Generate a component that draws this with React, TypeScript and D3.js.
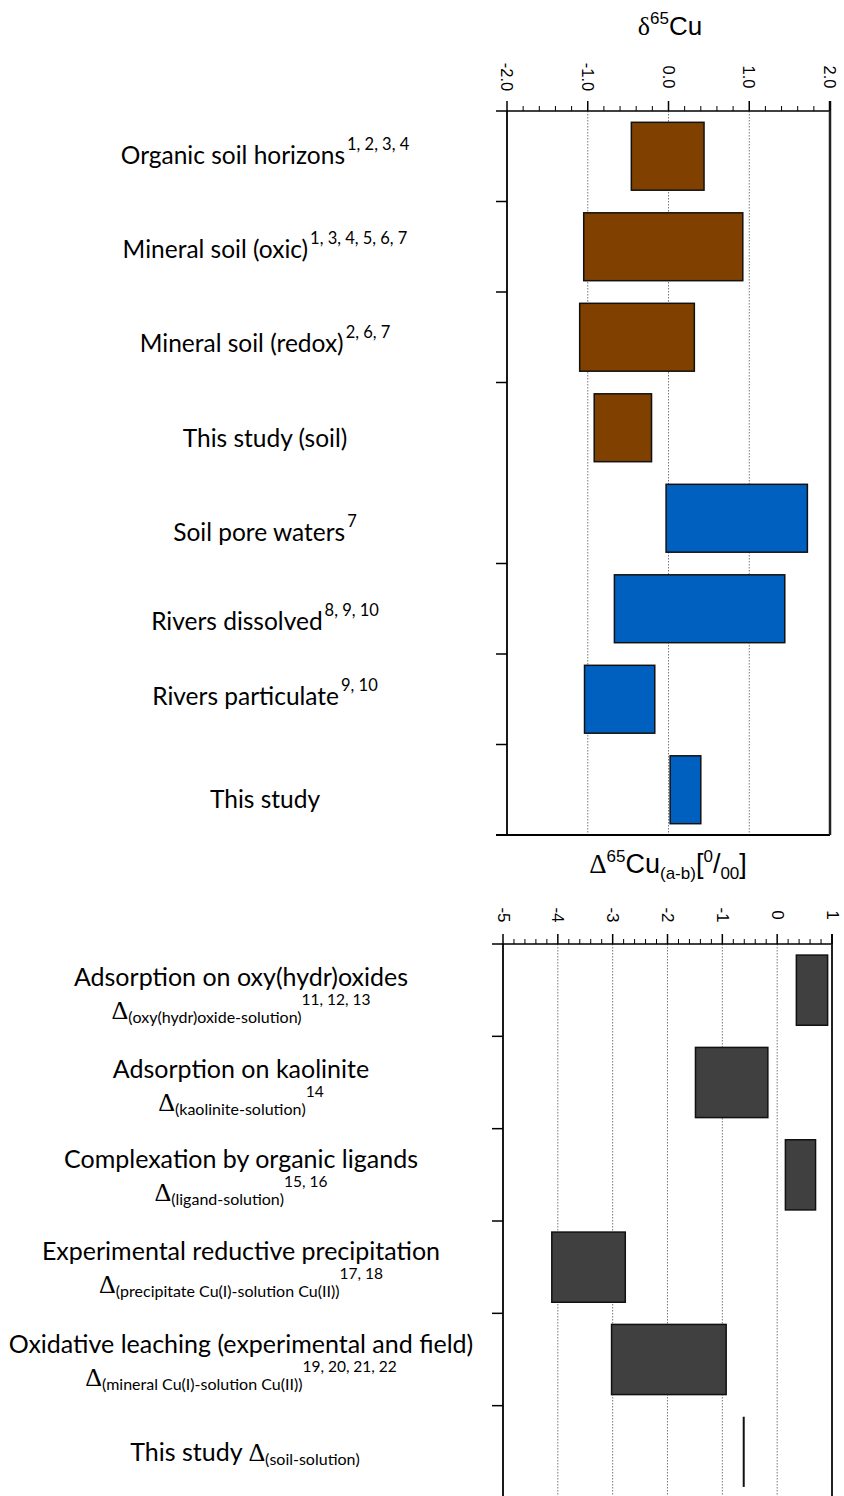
import * as React from 'react';
import * as d3 from 'd3';

// top panel: reported d65Cu ranges
const soilCategories = [
  'Organic soil horizons',
  'Mineral soil (oxic)',
  'Mineral soil (redox)',
  'This study  (soil)',
  'Soil pore waters',
  'Rivers dissolved',
  'Rivers particulate',
  'This study',
];
const soilRefs = ['1, 2, 3, 4', '1, 3, 4, 5, 6, 7', '2, 6, 7', '', '7', '8, 9, 10', '9, 10', ''];
const soilLow = [-0.46, -1.05, -1.1, -0.92, -0.03, -0.67, -1.04, 0.02];
const soilHigh = [0.44, 0.92, 0.32, -0.21, 1.72, 1.44, -0.17, 0.4];
const soilKind = ['solid', 'solid', 'solid', 'solid', 'water', 'water', 'water', 'water'];
const soilTickValues = [-2, -1, 0, 1, 2];
const soilTickLabels = ['-2.0', '-1.0', '0.0', '1.0', '2.0'];

// bottom panel: fractionation factors
const procTitles = [
  'Adsorption on oxy(hydr)oxides',
  'Adsorption on kaolinite',
  'Complexation by organic ligands',
  'Experimental reductive precipitation',
  'Oxidative leaching (experimental and field)',
  'This study',
];
const procSubs = [
  '(oxy(hydr)oxide-solution)',
  '(kaolinite-solution)',
  '(ligand-solution)',
  '(precipitate Cu(I)-solution Cu(II))',
  '(mineral Cu(I)-solution Cu(II))',
  '(soil-solution)',
];
const procRefs = ['11, 12, 13', '14', '15, 16', '17, 18', '19, 20, 21, 22', ''];
const procLow = [0.35, -1.49, 0.15, -4.11, -3.02, -0.61];
const procHigh = [0.92, -0.17, 0.7, -2.77, -0.93, -0.61];
const procTickValues = [-5, -4, -3, -2, -1, 0, 1];
const procTickLabels = ['-5', '-4', '-3', '-2', '-1', '0', '1'];

const kindColor: Record<string, string> = { solid: '#7f4000', water: '#0060bf' };
const procColor = '#404040';

const labelFont = 'Lato, "Open Sans", sans-serif';
const axisFont = '"Liberation Sans", Arial, sans-serif';
const symbolFont = '"Liberation Serif", "DejaVu Serif", serif';

// small nudges of the row captions, as in the original layout
const soilLabelShift = [0, 3, 7, 11, 15, 13, -2, 10];
const procLabelShift = [-1, -2, -4, -4, -4, 0];

const W = 844;
const H = 1496;

const App: React.FC = () => {
  // top scales
  const xTop = d3.scaleLinear().domain([-2, 2]).range([507, 830]);
  const yTop = d3.scaleBand<string>().domain(soilCategories).range([111, 835])
    .paddingInner(0.25).paddingOuter(0.125);
  const topStep = yTop.step();

  // bottom scales
  const xBot = d3.scaleLinear().domain([-5, 1]).range([503, 832]);
  const yBot = d3.scaleBand<string>().domain(procTitles.map((d, i) => d + i)).range([944, 1498])
    .paddingInner(0.24).paddingOuter(0.12);
  const botStep = yBot.step();

  const topMinor = d3.range(-2, 2.001, 0.2);
  const botMinor = d3.range(-5, 1.001, 0.2);

  return (
    <div style={{ position: 'absolute', left: 0, top: 0 }}>
      <svg width={W} height={H} style={{ display: 'block', background: '#fff' }}>
        {/* ---------- top panel ---------- */}
        <text x={670} y={35} textAnchor="middle" fontFamily={axisFont} fontSize={26} fill="#000">
          <tspan fontFamily={symbolFont}>δ</tspan>
          <tspan fontSize={17} dy={-11}>65</tspan>
          <tspan dy={11}>Cu</tspan>
        </text>

        {soilTickValues.map((v, i) => (
          <text key={'tl' + i} transform={`translate(${xTop(v)},77) rotate(90)`}
            textAnchor="middle" dominantBaseline="central" fontFamily={axisFont} fontSize={16.5}>
            {soilTickLabels[i]}
          </text>
        ))}

        {soilTickValues.slice(1, -1).map((v, i) => (
          <line key={'tg' + i} x1={xTop(v)} x2={xTop(v)} y1={111} y2={835}
            stroke="#555" strokeWidth={0.8} strokeDasharray="1.5,1.5" />
        ))}

        {soilCategories.map((c, i) => {
          const x0 = xTop(soilLow[i]);
          const x1 = xTop(soilHigh[i]);
          return (
            <rect key={'tb' + i} x={x0} y={yTop(c)!} width={x1 - x0} height={yTop.bandwidth()}
              fill={kindColor[soilKind[i]]} stroke="#111" strokeWidth={1.5} />
          );
        })}

        {/* axis frame */}
        <line x1={496} x2={830} y1={111} y2={111} stroke="#000" strokeWidth={1.5} />
        <line x1={496} x2={830} y1={835} y2={835} stroke="#000" strokeWidth={1.8} />
        <line x1={507} x2={507} y1={111} y2={835} stroke="#000" strokeWidth={1.8} />
        <line x1={830} x2={830} y1={101} y2={835} stroke="#222" strokeWidth={2.5} />
        {topMinor.map((v, i) => {
          const major = Math.abs(v - Math.round(v)) < 1e-6;
          return (
            <line key={'tm' + i} x1={xTop(v)} x2={xTop(v)} y1={111} y2={major ? 101 : 106}
              stroke="#000" strokeWidth={major ? 1.5 : 1} />
          );
        })}
        {d3.range(1, soilCategories.length).filter(k => k !== 4).map(k => (
          <line key={'tt' + k} x1={496} x2={507} y1={111 + k * topStep} y2={111 + k * topStep}
            stroke="#000" strokeWidth={1.5} />
        ))}

        {soilCategories.map((c, i) => (
          <text key={'tc' + i} x={265} y={yTop(c)! + yTop.bandwidth() / 2 + 8 + soilLabelShift[i]}
            textAnchor="middle" fontFamily={labelFont} fontSize={24.5} fill="#000">
            <tspan>{c}</tspan>
            {soilRefs[i] && <tspan fontSize={16.5} dx={2} dy={-14}>{soilRefs[i]}</tspan>}
          </text>
        ))}

        {/* ---------- bottom panel ---------- */}
        <text x={668} y={873} textAnchor="middle" fontFamily={axisFont} fontSize={27} fill="#000">
          <tspan fontFamily={symbolFont}>Δ</tspan>
          <tspan fontSize={17} dy={-11}>65</tspan>
          <tspan dy={11}>Cu</tspan>
          <tspan fontSize={17} dy={6}>(a-b)</tspan>
          <tspan dy={-6}>[</tspan>
          <tspan fontSize={17} dy={-11}>0</tspan>
          <tspan dy={11}>/</tspan>
          <tspan fontSize={17} dy={6}>00</tspan>
          <tspan dy={-6}>]</tspan>
        </text>

        {procTickValues.map((v, i) => (
          <text key={'bl' + i} transform={`translate(${xBot(v)},915) rotate(90)`}
            textAnchor="middle" dominantBaseline="central" fontFamily={axisFont} fontSize={17}>
            {procTickLabels[i]}
          </text>
        ))}

        {procTickValues.slice(1, -1).map((v, i) => (
          <line key={'bg' + i} x1={xBot(v)} x2={xBot(v)} y1={944} y2={H}
            stroke="#555" strokeWidth={0.8} strokeDasharray="1.5,1.5" />
        ))}

        {procTitles.map((t, i) => {
          const key = t + i;
          const x0 = xBot(procLow[i]);
          const x1 = xBot(procHigh[i]);
          if (procLow[i] === procHigh[i]) {
            return (
              <line key={'bb' + i} x1={x0} x2={x0} y1={yBot(key)!} y2={yBot(key)! + yBot.bandwidth()}
                stroke="#111" strokeWidth={2} />
            );
          }
          return (
            <rect key={'bb' + i} x={x0} y={yBot(key)!} width={x1 - x0} height={yBot.bandwidth()}
              fill={procColor} stroke="#111" strokeWidth={1.5} />
          );
        })}

        <line x1={492} x2={832} y1={944} y2={944} stroke="#000" strokeWidth={1.5} />
        <line x1={503} x2={503} y1={944} y2={H} stroke="#000" strokeWidth={1.8} />
        <line x1={832} x2={832} y1={934} y2={H} stroke="#222" strokeWidth={2} />
        {botMinor.map((v, i) => {
          const major = Math.abs(v - Math.round(v)) < 1e-6;
          return (
            <line key={'bm' + i} x1={xBot(v)} x2={xBot(v)} y1={944} y2={major ? 934 : 939}
              stroke="#000" strokeWidth={major ? 1.5 : 1} />
          );
        })}
        {d3.range(1, procTitles.length).map(k => (
          <line key={'bt' + k} x1={492} x2={503} y1={944 + k * botStep} y2={944 + k * botStep}
            stroke="#000" strokeWidth={1.5} />
        ))}

        {procTitles.map((t, i) => {
          const cy = yBot(t + i)! + yBot.bandwidth() / 2 + procLabelShift[i];
          const last = i === procTitles.length - 1;
          if (last) {
            return (
              <text key={'bc' + i} x={245} y={cy + 9} textAnchor="middle" fontFamily={labelFont}
                fontSize={25} fill="#000">
                <tspan>{t} </tspan>
                <tspan fontFamily={symbolFont} fontSize={26}>Δ</tspan>
                <tspan fontSize={16} dy={4}>{procSubs[i]}</tspan>
              </text>
            );
          }
          return (
            <g key={'bc' + i}>
              <text x={241} y={cy - 3} textAnchor="middle" fontFamily={labelFont} fontSize={25} fill="#000">
                {t}
              </text>
              <text x={241} y={cy + 30} textAnchor="middle" fontFamily={labelFont} fontSize={16} fill="#000">
                <tspan fontFamily={symbolFont} fontSize={26}>Δ</tspan>
                <tspan dy={4}>{procSubs[i]}</tspan>
                <tspan fontSize={15.5} dy={-18}>{procRefs[i]}</tspan>
              </text>
            </g>
          );
        })}
      </svg>
    </div>
  );
};

export default App;
